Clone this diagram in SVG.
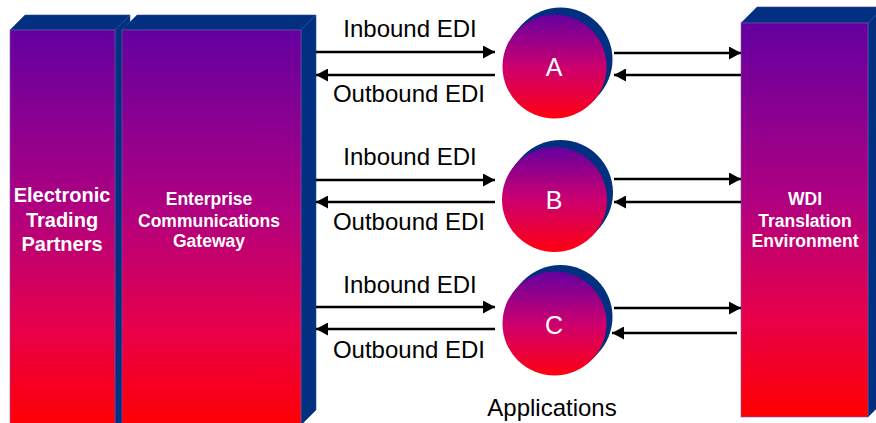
<svg xmlns="http://www.w3.org/2000/svg" width="876" height="423" viewBox="0 0 876 423">
<style>
.navy{fill:#00307f;stroke:#2a4c9a;stroke-width:0.6}
.face{stroke:#7a5ab0;stroke-width:0.6}
.lbl{font-family:"Liberation Sans",Arial,sans-serif;font-size:24px;fill:#000;text-anchor:middle}
.blbl{font-family:"Liberation Sans",Arial,sans-serif;font-weight:bold;fill:#fff;text-anchor:middle}
.clbl{font-family:"Liberation Sans",Arial,sans-serif;font-size:25px;fill:#fff;text-anchor:middle}
.arr{stroke:#000;stroke-width:2.5;fill:none;marker-end:url(#ah)}
</style>
<defs>
<linearGradient id="gBox" x1="0" y1="0" x2="0" y2="1">
<stop offset="0" stop-color="#6400a0"/>
<stop offset="0.45" stop-color="#b00080"/>
<stop offset="0.75" stop-color="#e8004a"/>
<stop offset="1" stop-color="#ff0000"/>
</linearGradient>
<linearGradient id="gCir" x1="0" y1="0" x2="0" y2="1">
<stop offset="0" stop-color="#6400a0"/>
<stop offset="0.5" stop-color="#cc0070"/>
<stop offset="1" stop-color="#ff0010"/>
</linearGradient>
<marker id="ah" markerUnits="userSpaceOnUse" markerWidth="13" markerHeight="13" viewBox="0 0 12 13" refX="12" refY="6.5" orient="auto">
<path d="M0,0 L12,6.5 L0,13 z" fill="#000"/>
</marker>
</defs>

<g id="trading-partners">
<polygon class="navy" points="10,30 25,15 130,15 115,30"/>
<polygon class="navy" points="115,30 130,15 130,415 115,430"/>
<rect class="face" x="10" y="30" width="105" height="400" fill="url(#gBox)"/>
<text class="blbl" font-size="20" x="62" y="202">Electronic</text>
<text class="blbl" font-size="20" x="62" y="227">Trading</text>
<text class="blbl" font-size="20" x="62" y="251">Partners</text>
</g>

<g id="gateway">
<polygon class="navy" points="122,30 137,15 316,15 301,30"/>
<polygon class="navy" points="301,30 316,15 316,410 301,425"/>
<rect class="face" x="122" y="30" width="179" height="400" fill="url(#gBox)"/>
<text class="blbl" font-size="17.5" x="209" y="205">Enterprise</text>
<text class="blbl" font-size="17.5" x="209" y="227">Communications</text>
<text class="blbl" font-size="17.5" x="209" y="247">Gateway</text>
</g>

<g id="wdi">
<polygon class="navy" points="741,23 757,7 884,7 868,23"/>
<polygon class="navy" points="868,23 884,7 884,401 868,417"/>
<rect class="face" x="741" y="23" width="127" height="394" fill="url(#gBox)"/>
<text class="blbl" font-size="17.5" x="805" y="205">WDI</text>
<text class="blbl" font-size="17.5" x="805" y="227">Translation</text>
<text class="blbl" font-size="17.5" x="805" y="247">Environment</text>
</g>

<g id="app-a">
<circle cx="560.5" cy="59.5" r="52" fill="#00307f"/>
<circle cx="558.5" cy="61.8" r="52" fill="#00307f"/>
<circle cx="556.5" cy="64.2" r="52" fill="#00307f"/>
<circle cx="554.5" cy="66.5" r="52" fill="url(#gCir)"/>
<text class="clbl" x="554" y="76">A</text>
</g>

<g id="app-b">
<circle cx="560.5" cy="192.5" r="52.5" fill="#00307f"/>
<circle cx="558.5" cy="194.8" r="52.5" fill="#00307f"/>
<circle cx="556.5" cy="197.2" r="52.5" fill="#00307f"/>
<circle cx="554.5" cy="199.5" r="52.5" fill="url(#gCir)"/>
<text class="clbl" x="554" y="209">B</text>
</g>

<g id="app-c">
<circle cx="560.5" cy="317" r="52" fill="#00307f"/>
<circle cx="558.5" cy="319.2" r="52" fill="#00307f"/>
<circle cx="556.5" cy="321.4" r="52" fill="#00307f"/>
<circle cx="554.5" cy="323.5" r="52" fill="url(#gCir)"/>
<text class="clbl" x="554" y="334">C</text>
</g>

<g id="connectors">
<line class="arr" x1="316" y1="52" x2="495" y2="52"/>
<line class="arr" x1="495" y1="75" x2="316" y2="75"/>
<line class="arr" x1="316" y1="180" x2="495" y2="180"/>
<line class="arr" x1="495" y1="202" x2="316" y2="202"/>
<line class="arr" x1="316" y1="307" x2="495" y2="307"/>
<line class="arr" x1="495" y1="329" x2="316" y2="329"/>
<line class="arr" x1="614" y1="53" x2="741" y2="53"/>
<line class="arr" x1="741" y1="75" x2="614" y2="75"/>
<line class="arr" x1="614" y1="179" x2="741" y2="179"/>
<line class="arr" x1="741" y1="202" x2="614" y2="202"/>
<line class="arr" x1="614" y1="308" x2="741" y2="308"/>
<line class="arr" x1="737" y1="333" x2="612" y2="333"/>
<text class="lbl" x="410" y="37">Inbound EDI</text>
<text class="lbl" x="409" y="102">Outbound EDI</text>
<text class="lbl" x="410" y="165">Inbound EDI</text>
<text class="lbl" x="409" y="230">Outbound EDI</text>
<text class="lbl" x="410" y="293">Inbound EDI</text>
<text class="lbl" x="409" y="358">Outbound EDI</text>
<text class="lbl" x="552" y="416">Applications</text>
</g>
</svg>
